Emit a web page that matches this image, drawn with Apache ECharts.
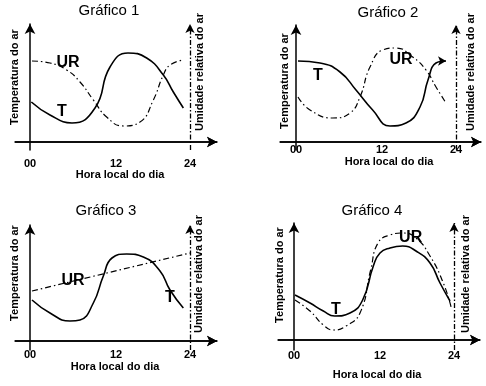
<!DOCTYPE html>
<html><head><meta charset="utf-8">
<script src="https://cdn.jsdelivr.net/npm/echarts@6/dist/echarts.min.js"></script>
<style>html,body{margin:0;padding:0;background:#fff}#c{width:486px;height:386px}</style>
</head><body><div id="c"></div>
<script>
// ---------- data ----------
const tickValues = [0, 12, 24];
const tickLabels = ['00', '12', '24'];
const titles = ['Gráfico 1', 'Gráfico 2', 'Gráfico 3', 'Gráfico 4'];
const xName = 'Hora local do dia';
const yName = 'Temperatura do ar';
const y2Name = 'Umidade relativa do ar';
const seriesNames = ['T', 'UR'];

const g1_T_hours  = [0.2, 3, 6.3, 9.75, 12, 14.7, 17.5, 20, 21.5, 23];
const g1_T_values = [40, 27, 19, 34, 75, 89, 84, 67, 50, 34];
const g1_UR_hours  = [0.3, 3, 5.5, 7.5, 9.5, 11.5, 14, 16.5, 18.5, 20, 21, 23];
const g1_UR_values = [81, 79, 72, 60, 42, 25, 16, 20, 42, 67, 77, 82];

const g2_T_hours  = [0.3, 3.6, 6.6, 9, 11.5, 14.1, 16.5, 18.6, 19.8, 21, 22.5];
const g2_T_values = [81, 79, 70, 52, 32, 16, 19, 35, 62, 79, 81];
const g2_UR_hours  = [0.3, 2.1, 5.5, 8.1, 9.6, 11.1, 13, 15, 17.5, 19.5, 21, 22.5];
const g2_UR_values = [45, 32, 24, 29, 45, 75, 92, 94, 85, 72, 55, 39];

const g3_T_hours  = [0.3, 3, 6, 7.5, 9.5, 11, 12.3, 14.5, 17, 19.5, 21, 23];
const g3_T_values = [41, 28, 20, 21, 38, 65, 83, 87, 84, 70, 51, 33];
const g3_UR_hours  = [0.3, 24];
const g3_UR_values = [50, 88];

const g4_T_hours  = [0.15, 2.4, 4.4, 6.1, 8.4, 10.3, 11.9, 12.9, 14.4, 16.3, 18.3, 20.4, 21.9, 23.4];
const g4_T_values = [45, 37, 29, 24, 27, 40, 74, 87, 92, 94, 89, 77, 57, 39];
const g4_UR_hours  = [0.15, 2.4, 4.4, 5.9, 7.8, 9.9, 11.5, 12.6, 14.4, 16.3, 18.3, 20.4, 22.4, 23.6];
const g4_UR_values = [40, 29, 15, 10, 14, 27, 70, 97, 105, 107, 102, 84, 57, 32];

// label anchors [hour, value] for the curve names
const g1_labels = [[4.8, 30], [5.7, 79]];
const g2_labels = [[3.3, 66], [15.75, 82]];
const g3_labels = [[21, 43], [6.45, 60]];
const g4_labels = [[6.3, 30], [17.5, 102]];

// ---------- layout ----------
const FONT = "'Liberation Sans', Arial, sans-serif";
const panels = [
  {grid:{left:15, top:24, width:202, height:126}, x:[-2.25, 28.05], y:[-8, 118], labMargin:16, title:[109,11], yT:[15,77], y2T:[200,72], xT:[120,175],
   T:[g1_T_hours,g1_T_values], UR:[g1_UR_hours,g1_UR_values], labels:g1_labels},
  {grid:{left:280, top:25, width:201, height:125}, x:[-2.4, 27.75], y:[-8, 117], labMargin:2, title:[388,13], yT:[285,81], y2T:[471,72], xT:[389,162],
   T:[g2_T_hours,g2_T_values], UR:[g2_UR_hours,g2_UR_values], labels:g2_labels, arrowEnd:true},
  {grid:{left:15, top:225, width:202, height:125}, x:[-2.25, 28.05], y:[-9, 116], labMargin:8, title:[106,211], yT:[15,273], y2T:[199,274], xT:[115,367],
   T:[g3_T_hours,g3_T_values], UR:[g3_UR_hours,g3_UR_values], labels:g3_labels},
  {grid:{left:278, top:223, width:202, height:127}, x:[-2.4, 27.9], y:[-10, 117], labMargin:10, title:[372,211], yT:[280,275], y2T:[466,274], xT:[377,375],
   T:[g4_T_hours,g4_T_values], UR:[g4_UR_hours,g4_UR_values], labels:g4_labels}
];

const zip = (a, b) => a.map((h, i) => [h, b[i]]);
const grids = [], xAxes = [], yAxes = [], series = [], graphics = [];

panels.forEach((p, i) => {
  grids.push(Object.assign({containLabel:false}, p.grid));
  const pxPerUnit = p.grid.height / (p.y[1] - p.y[0]);
  xAxes.push({
    type:'value', gridIndex:i, min:p.x[0], max:p.x[1], position:'bottom',
    offset: p.y[0] * pxPerUnit,   // axis sits at value 0
    axisLine:{show:true, onZero:false, symbol:['none','arrow'], symbolSize:[8,10], lineStyle:{color:'#000', width:1.5, type:'solid'}},
    axisTick:{show:false}, splitLine:{show:false},
    axisLabel:{show:true, customValues:tickValues, margin:p.labMargin, color:'#000', fontWeight:'bold', fontSize:11, fontFamily:FONT,
      formatter:v => v === 12 ? '{s|12}' : (tickLabels[tickValues.indexOf(v)] || ''),
      rich:{s:{padding:[0,0,0,12], fontWeight:'bold', fontSize:11, fontFamily:FONT, color:'#000'}}}
  });
  yAxes.push({
    type:'value', gridIndex:i, min:p.y[0], max:p.y[1],
    axisLine:{show:true, onZero:true, symbol:['none','arrow'], symbolSize:[8,10], lineStyle:{color:'#000', width:1.5}},
    axisTick:{show:false}, splitLine:{show:false}, axisLabel:{show:false}
  });
  const tData = zip(p.T[0], p.T[1]);
  if (p.arrowEnd) {
    const last = tData.length - 1;
    tData[last] = {value:tData[last], symbol:'arrow', symbolSize:[7,8], symbolRotate:-90, itemStyle:{color:'#000'}};
  }
  series.push({
    type:'line', name:seriesNames[0], xAxisIndex:i, yAxisIndex:i, data:tData, smooth:0.5,
    symbol:'none', showSymbol:true, lineStyle:{color:'#000', width:1.6}, silent:true, z:3,
    markLine:{silent:true, symbol:['none','arrow'], symbolSize:[7,9], label:{show:false},
      lineStyle:{color:'#000', width:1.3, type:[5,2,1.5,2]}, data:[{xAxis:24}], animation:false},
    markPoint:{silent:true, symbol:'circle', symbolSize:0,
      label:{show:true, formatter:seriesNames[0], color:'#000', fontWeight:'bold', fontSize:16, fontFamily:FONT, position:'inside'},
      data:[{coord:p.labels[0]}]}
  });
  series.push({
    type:'line', name:seriesNames[1], xAxisIndex:i, yAxisIndex:i, data:zip(p.UR[0], p.UR[1]), smooth:p.UR[0].length > 2 ? 0.5 : false,
    symbol:'none', lineStyle:{color:'#000', width:1.2, type:[6,3,1.5,3]}, silent:true, z:2,
    // horizontal time axis line (value 0) with arrow
    markLine:{silent:true, symbol:['none','arrow'], symbolSize:[8,10], label:{show:false},
      lineStyle:{color:'#000', width:1.5, type:'solid'},
      data:[[{coord:[p.x[0], 0]}, {coord:[p.x[1], 0]}]], animation:false},
    markPoint:{silent:true, symbol:'circle', symbolSize:0,
      label:{show:true, formatter:seriesNames[1], color:'#000', fontWeight:'bold', fontSize:16, fontFamily:FONT, position:'inside'},
      data:[{coord:p.labels[1]}]}
  });
  graphics.push({type:'text', x:p.title[0], y:p.title[1], style:{text:titles[i], fill:'#000', font:"15px " + FONT, align:'center', verticalAlign:'middle'}});
  graphics.push({type:'text', x:p.yT[0], y:p.yT[1], rotation:Math.PI/2, style:{text:yName, fill:'#000', font:"bold 11px " + FONT, align:'center', verticalAlign:'middle'}});
  graphics.push({type:'text', x:p.y2T[0], y:p.y2T[1], rotation:Math.PI/2, style:{text:y2Name, fill:'#000', font:"bold 11px " + FONT, align:'center', verticalAlign:'middle'}});
  graphics.push({type:'text', x:p.xT[0], y:p.xT[1], style:{text:xName, fill:'#000', font:"bold 11px " + FONT, align:'center', verticalAlign:'middle'}});
});

const chart = echarts.init(document.getElementById('c'), null, {renderer:'canvas'});
chart.setOption({
  animation:false, backgroundColor:'#fff',
  grid:grids, xAxis:xAxes, yAxis:yAxes, series:series, graphic:graphics
});
</script></body></html>
